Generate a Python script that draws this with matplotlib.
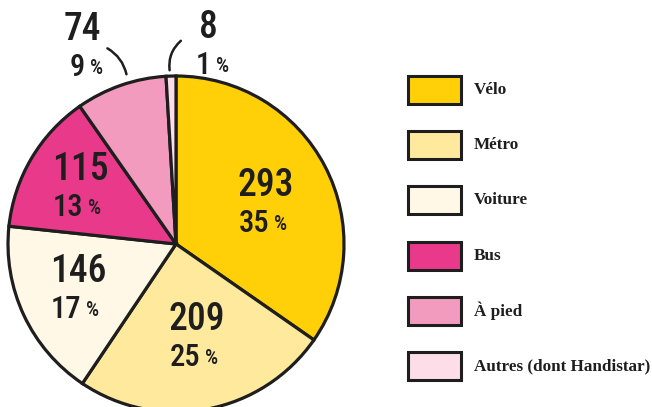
import matplotlib
matplotlib.use("Agg")
from matplotlib import pyplot as plt
from matplotlib.patches import Rectangle
from matplotlib import font_manager

# Données
modes = ["Vélo", "Métro", "Voiture", "Bus", "À pied", "Autres (dont Handistar)"]
effectifs = [293, 209, 146, 115, 74, 8]
pourcents = [35, 25, 17, 13, 9, 1]
couleurs = ["#FFD008", "#FFE99C", "#FFF8E7", "#E9398A", "#F29BBF", "#FCDDE8"]


def poids(f):
    w = f.weight
    if isinstance(w, str):
        w = font_manager.weight_dict.get(w, 400)
    return w


# police condensée pour les chiffres si disponible
etroites = [f for f in font_manager.fontManager.ttflist
            if str(f.stretch) in ("condensed", "semi-condensed", "extra-condensed", "ultra-condensed")
            and f.style == "normal"]
preferees = ["Roboto Condensed", "Liberation Sans Narrow", "Open Sans Condensed",
             "Noto Sans", "DejaVu Sans"]
fp_chiffres = None
for nom in preferees:
    choix = [f for f in etroites if f.name == nom]
    if choix:
        choix.sort(key=lambda f: abs(poids(f) - 520))
        fp_chiffres = font_manager.FontProperties(fname=choix[0].fname)
        break
if fp_chiffres is None and etroites:
    etroites.sort(key=lambda f: abs(poids(f) - 520))
    fp_chiffres = font_manager.FontProperties(fname=etroites[0].fname)
if fp_chiffres is None:
    fp_chiffres = font_manager.FontProperties(family="DejaVu Sans")

fig = plt.figure(figsize=(6.52, 4.07), dpi=100)
ax = fig.add_axes([0, 0, 1, 1])
H = 407

centre = (176, H - 244)
rayon = 168
wedges, _ = ax.pie(effectifs, colors=couleurs, startangle=90, counterclock=False,
                   center=centre, radius=rayon,
                   wedgeprops=dict(edgecolor="#1e1e1e", linewidth=2.3))

# positions des étiquettes (pixels)
pos_etiquettes = [(266, 185), (197, 320), (78, 271), (80, 170), (82, 30), (208, 27)]
for (x, y), n, p in zip(pos_etiquettes, effectifs, pourcents):
    ax.text(x, H - y, str(n), ha="center", va="center", fontproperties=fp_chiffres,
            fontsize=27, color="#1e1e1e")
    ax.text(x + 3, H - y - 38, str(p), ha="right", va="center", fontproperties=fp_chiffres,
            fontsize=22, color="#1e1e1e")
    ax.text(x + 8, H - y - 39, "%", ha="left", va="center", fontproperties=fp_chiffres,
            fontsize=15, color="#1e1e1e")

# traits de rappel
ax.annotate("", xy=(127, H - 77), xytext=(105, H - 47),
            arrowprops=dict(arrowstyle="-", color="#1e1e1e", lw=1.8,
                            connectionstyle="arc3,rad=-0.25"))
ax.annotate("", xy=(170, H - 73), xytext=(183, H - 39),
            arrowprops=dict(arrowstyle="-", color="#1e1e1e", lw=1.8,
                            connectionstyle="arc3,rad=0.3"))

# légende
y0 = 76
for i, (m, c) in enumerate(zip(modes, couleurs)):
    y = y0 + i * 55.2
    ax.add_patch(Rectangle((408, H - y - 28), 53, 28, facecolor=c,
                           edgecolor="#1e1e1e", linewidth=2.2))
    ax.text(474, H - y - 14, m, ha="left", va="center", fontsize=12.3,
            fontweight="bold", family="Liberation Serif", color="#1e1e1e")

ax.set_xlim(0, 652)
ax.set_ylim(0, H)
ax.set_aspect("auto")
ax.axis("off")

fig.savefig("out.png", dpi=100)
